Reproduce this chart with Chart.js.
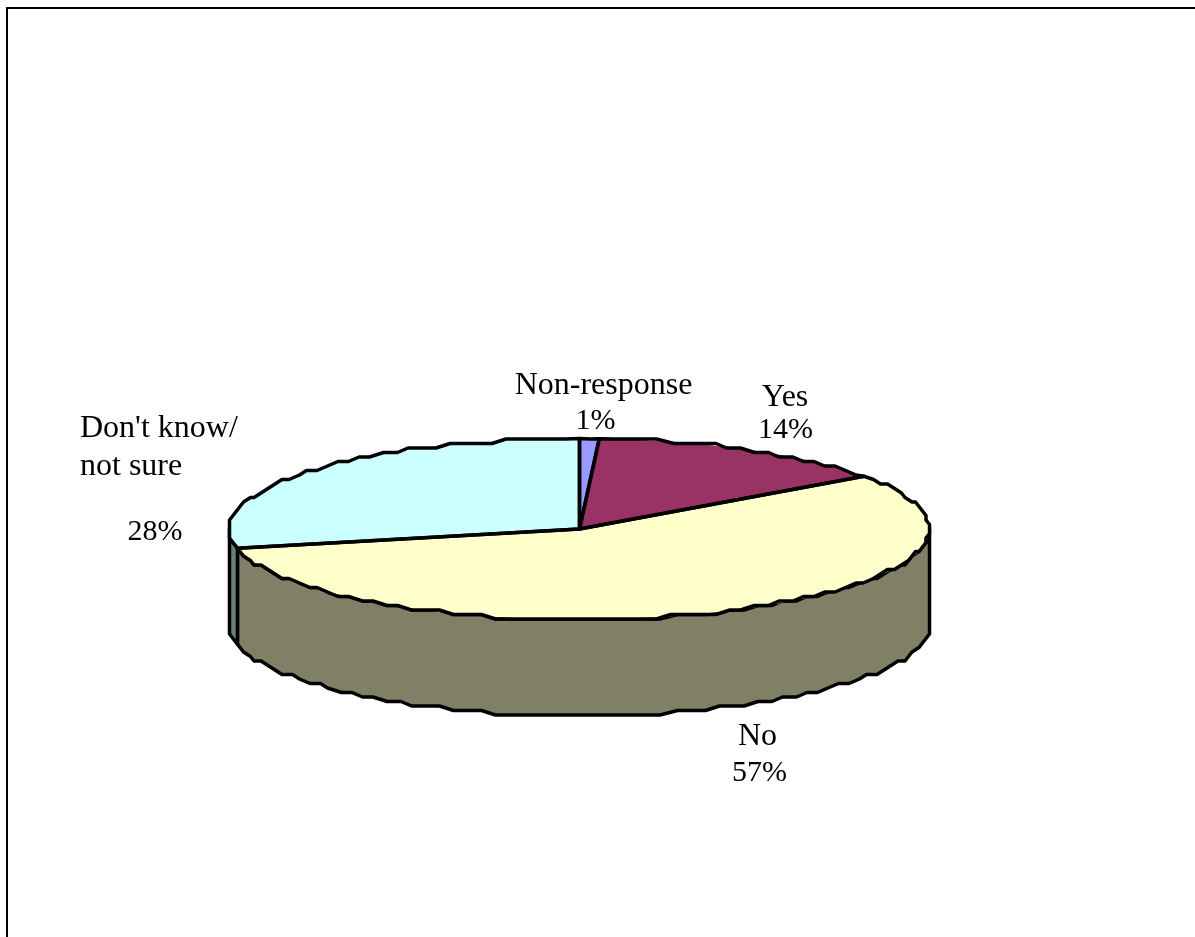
<!DOCTYPE html>
<html>
<head>
<meta charset="utf-8">
<style>
html,body{margin:0;padding:0;background:#fff;overflow:hidden}
#wrap{position:relative;width:1195px;height:937px}
canvas{display:block}
</style>
<script src="https://cdn.jsdelivr.net/npm/chart.js@4"></script>
</head>
<body>
<div id="wrap"><canvas id="c" width="1195" height="937"></canvas></div>
<script>
const categories = ["Non-response", "Yes", "No", "Don't know/ not sure"];
const values = [0.9, 14.2, 56.5, 28.4];
const topColors = ["#9999FF", "#993366", "#FFFFCC", "#CCFFFF"];
const wallColors = ["#4D4D80", "#4D1A33", "#808066", "#668080"];

const SQUASH = 90.5 / 350, DEPTH = 96, STROKE = 3.5, GRID_X = 3.5, GRID_Y = 4.5;
const WORD_FONT = '32px "Liberation Serif"', PCT_FONT = '30px "Liberation Serif"';
const pct = i => Math.round(values[i]) + "%";
// text placement: one entry per text line
const labelLayout = [
  {text: () => categories[0], font: WORD_FONT, x: 603.5, y: 394, align: "center"},
  {text: () => pct(0),        font: PCT_FONT,  x: 595.5, y: 429, align: "center"},
  {text: () => categories[1], font: WORD_FONT, x: 785,   y: 406, align: "center"},
  {text: () => pct(1),        font: PCT_FONT,  x: 785.5, y: 438, align: "center"},
  {text: () => categories[2], font: WORD_FONT, x: 757.5, y: 745, align: "center"},
  {text: () => pct(2),        font: PCT_FONT,  x: 759.5, y: 781, align: "center"},
  {text: () => categories[3].split(" not")[0], font: WORD_FONT, x: 80, y: 437, align: "left"},
  {text: () => "not" + categories[3].split(" not")[1], font: WORD_FONT, x: 80, y: 475, align: "left"},
  {text: () => pct(3),        font: PCT_FONT,  x: 182.5, y: 540, align: "right"}
];

function wobble(cx, cy, rx, ry, a, b) {
  const n = Math.max(2, Math.round(Math.abs(b - a) * rx / 15));
  const pts = [];
  for (let k = 0; k <= n; k++) {
    const t = a + (b - a) * k / n;
    let dx = rx * Math.cos(t), dy = ry * Math.sin(t);
    if (k > 0 && k < n) { dx = Math.round(dx / GRID_X) * GRID_X; dy = Math.round(dy / GRID_Y) * GRID_Y; }
    pts.push([cx + dx, cy + dy]);
  }
  return pts;
}

const pie3d = {
  id: "pie3d",
  beforeDatasetsDraw(chart) {
    const ctx = chart.ctx, arcs = chart.getDatasetMeta(0).data;
    const {x: cx, y: cy, outerRadius: rx} = arcs[0], ry = rx * SQUASH;
    ctx.save();
    ctx.lineWidth = 2; ctx.strokeStyle = "#000";
    ctx.beginPath(); ctx.moveTo(1195, 8); ctx.lineTo(7, 8); ctx.lineTo(7, 937); ctx.stroke();
    ctx.lineJoin = "round"; ctx.lineWidth = STROKE;
    arcs.forEach((arc, i) => {
      const s = Math.max(arc.startAngle, 0), e = Math.min(arc.endAngle, Math.PI);
      if (e <= s) return;
      const front = wobble(cx, cy, rx, ry, s, e);
      const back = wobble(cx, cy + DEPTH, rx, ry, e, s);
      ctx.beginPath();
      front.concat(back).forEach((p, k) => k ? ctx.lineTo(p[0], p[1]) : ctx.moveTo(p[0], p[1]));
      ctx.closePath();
      ctx.fillStyle = wallColors[i]; ctx.fill(); ctx.stroke();
    });
    ctx.restore();
    ctx.save();
    ctx.translate(cx, cy); ctx.scale(1, SQUASH); ctx.translate(-cx, -cy);
  },
  afterDatasetsDraw(chart) {
    const ctx = chart.ctx, arcs = chart.getDatasetMeta(0).data;
    ctx.restore();
    const {x: cx, y: cy, outerRadius: rx} = arcs[0], ry = rx * SQUASH;
    ctx.save();
    ctx.lineJoin = "round"; ctx.lineWidth = STROKE; ctx.strokeStyle = "#000";
    arcs.forEach(arc => {
      const pts = wobble(cx, cy, rx, ry, arc.startAngle, arc.endAngle);
      ctx.beginPath(); ctx.moveTo(cx, cy);
      pts.forEach(p => ctx.lineTo(p[0], p[1]));
      ctx.closePath(); ctx.stroke();
    });
    ctx.fillStyle = "#000"; ctx.textBaseline = "alphabetic";
    labelLayout.forEach(l => {
      ctx.font = l.font; ctx.textAlign = l.align;
      ctx.fillText(l.text(), l.x, l.y);
    });
    ctx.restore();
  }
};

new Chart(document.getElementById("c"), {
  type: "pie",
  data: {
    labels: categories,
    datasets: [{data: values, backgroundColor: topColors, borderWidth: 0, hoverOffset: 0}]
  },
  options: {
    responsive: false,
    animation: false,
    layout: {padding: {left: 229, right: 265, top: 179, bottom: 58}},
    plugins: {legend: {display: false}, tooltip: {enabled: false}, title: {display: false}}
  },
  plugins: [pie3d]
});
</script>
</body>
</html>
